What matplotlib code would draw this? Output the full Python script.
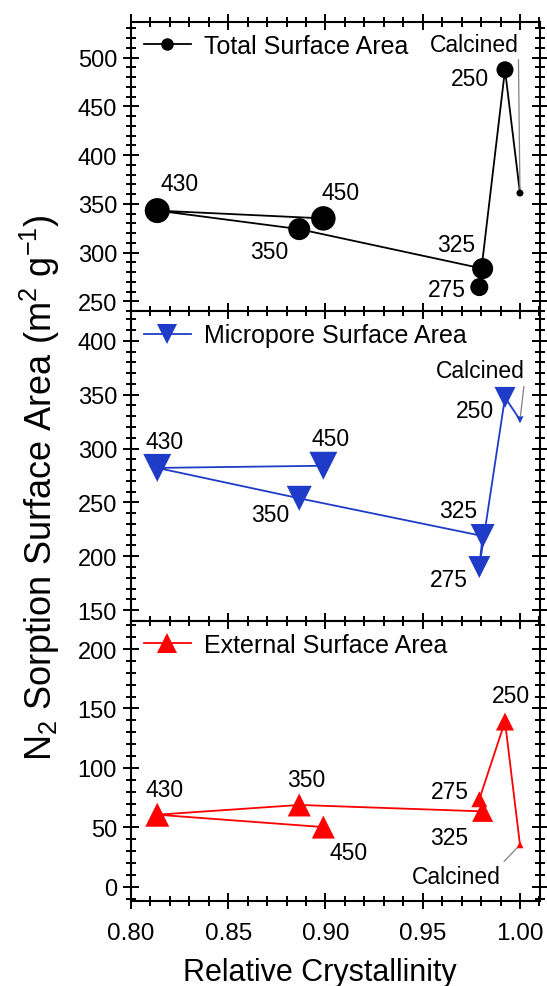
import matplotlib
matplotlib.use("Agg")
import matplotlib.pyplot as plt
from matplotlib.lines import Line2D
from matplotlib.ticker import MultipleLocator

plt.rcParams["font.family"] = ["Liberation Sans", "DejaVu Sans"]
plt.rcParams["mathtext.fontset"] = "custom"
plt.rcParams["mathtext.rm"] = "Liberation Sans"
plt.rcParams["mathtext.it"] = "Liberation Sans:italic"

# samples, ordered by calcination temperature
samples = ["Calcined", "250", "275", "325", "350", "430", "450"]
crystallinity = [1.000, 0.9923, 0.9791, 0.9808, 0.8865, 0.8135, 0.8989]
total_area = [361, 487.5, 264.5, 283.5, 324, 343, 335]
micro_area = [326.6, 347.4, 190, 218.8, 253.8, 282, 284]
external_area = [35.3, 139, 73.6, 63.4, 68.8, 60.6, 50.2]

# marker sizes (px) per sample
size_total = [7, 17, 18, 21, 22, 25, 24.5]
size_micro = [7, 21, 22, 24, 25, 28, 28]
size_ext = [7, 18, 16, 21, 23, 24, 23]

# label offsets in pixels (dx, dy) per panel
off_total = [(-46, 149), (-35, -9), (-32, -2), (-26, 24), (-30, -22), (22, 27), (17, 26)]
off_micro = [(-40, 49), (-30, -13), (-30, -12), (-24, 26), (-29, -16), (7, 26), (7, 27)]
off_ext = [(-64, -32), (6, 26), (-29, 8), (-33, -26), (7, 25), (7, 25), (25, -25)]

W, H = 547, 987
fig = plt.figure(figsize=(W / 100, H / 100), dpi=100)

left, right = 131 / W, 540 / W
edges = [22.5, 312, 621.5, 902]
panels = []
for i in range(3):
    top = 1 - edges[i] / H
    bot = 1 - edges[i + 1] / H
    panels.append(fig.add_axes([left, bot, right - left, top - bot]))

configs = [
    (panels[0], total_area, size_total, off_total, "o", "black",
     "Total Surface Area", (240, 537), (1, 0)),
    (panels[1], micro_area, size_micro, off_micro, "v", "#1f3cc8",
     "Micropore Surface Area", (140.4, 427.6), (1, 0)),
    (panels[2], external_area, size_ext, off_ext, "^", "#ff0000",
     "External Surface Area", (-12, 224), (1, 1)),
]

for ax, vals, sizes, offs, mk, col, name, ylim, rel in configs:
    ax.plot(crystallinity, vals, color=col, lw=1.3, zorder=2)
    ax.scatter(crystallinity, vals, s=[(d * 0.72) ** 2 for d in sizes],
               marker=mk, color=col, linewidths=0, zorder=3)
    for lab, x, y, (dx, dy) in zip(samples, crystallinity, vals, offs):
        if lab == "Calcined":
            ax.annotate(lab, xy=(x, y), xytext=(dx, dy), textcoords="offset pixels",
                        ha="center", va="center", fontsize=16.5,
                        arrowprops=dict(arrowstyle="-", color="gray", lw=0.9,
                                        shrinkA=1, shrinkB=3, relpos=rel))
        else:
            ax.annotate(lab, xy=(x, y), xytext=(dx, dy), textcoords="offset pixels",
                        ha="center", va="center", fontsize=16.5)
    handle = Line2D([], [], color=col, lw=1.3, marker=mk,
                    markersize=9 if mk == "o" else 15, markeredgewidth=0)
    ax.legend(handles=[handle], labels=[name], loc="upper left", frameon=False,
              fontsize=18, handlelength=1.9, handletextpad=0.5, borderpad=0.0,
              borderaxespad=0.5)

    ax.set_xlim(0.80, 1.0103)
    ax.set_ylim(*ylim)
    ax.xaxis.set_major_locator(MultipleLocator(0.05))
    ax.xaxis.set_minor_locator(MultipleLocator(0.01))
    ax.yaxis.set_major_locator(MultipleLocator(50))
    ax.yaxis.set_minor_locator(MultipleLocator(10))
    ax.tick_params(which="both", direction="inout", top=True, right=True,
                   width=1.4, labelsize=17, pad=4)
    ax.tick_params(which="major", length=12)
    ax.tick_params(which="minor", length=7)
    ax.tick_params(axis="x", pad=9, labelsize=17.5)
    for sp in ax.spines.values():
        sp.set_linewidth(1.5)
    if ax is not panels[2]:
        ax.tick_params(axis="x", labelbottom=False)

panels[0].set_yticks([250, 300, 350, 400, 450, 500])
panels[1].set_yticks([150, 200, 250, 300, 350, 400])
panels[2].set_yticks([0, 50, 100, 150, 200])
panels[2].set_xticks([0.80, 0.85, 0.90, 0.95, 1.00])
panels[2].set_xticklabels(["0.80", "0.85", "0.90", "0.95", "1.00"])

fig.text(320 / W, 1 - 973 / H, "Relative Crystallinity", ha="center", va="center",
         fontsize=22)
fig.text(40 / W, 1 - 488 / H, r"N$_2$ Sorption Surface Area (m$^{2}$ g$^{-1}$)",
         rotation=90, ha="center", va="center", fontsize=26)

fig.savefig("out.png", dpi=100)
